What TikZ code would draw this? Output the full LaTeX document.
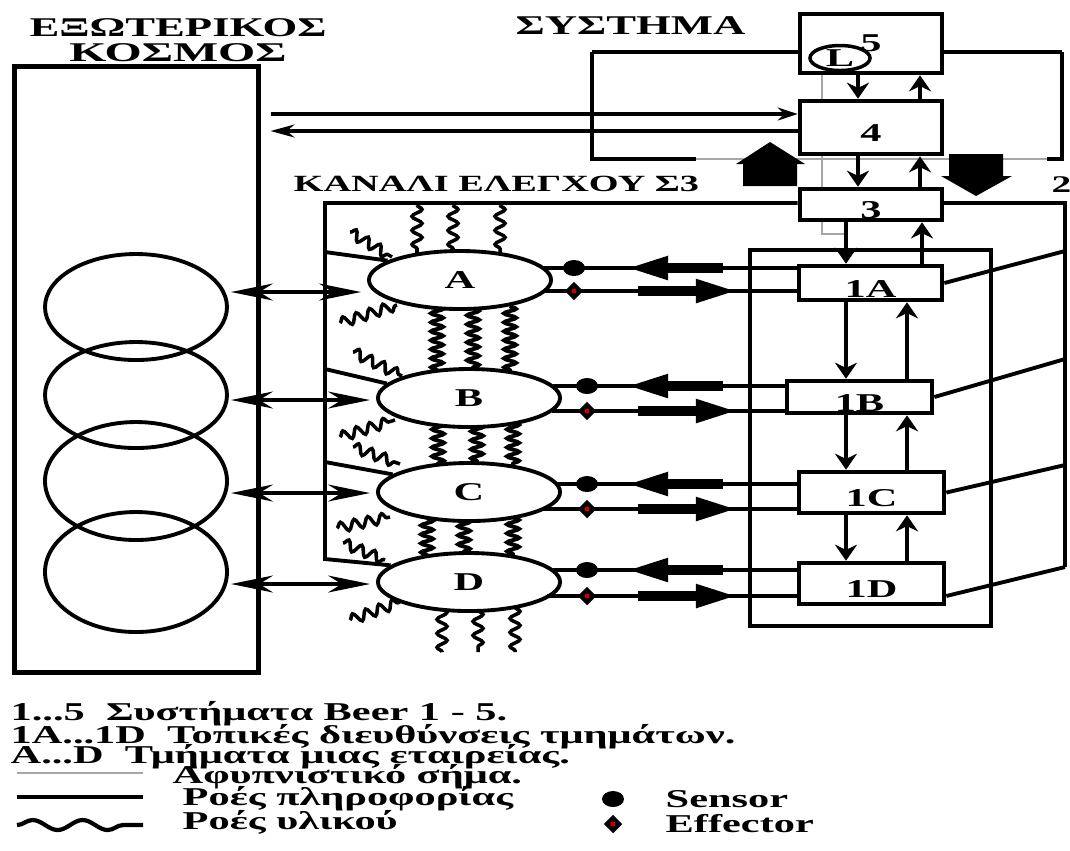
\documentclass[tikz,border=0pt]{standalone}
\usepackage{fontspec}
\setmainfont{Liberation Serif}[FakeStretch=1.65]
\usepackage{tikz}
\usetikzlibrary{arrows.meta,positioning,shapes.geometric,decorations.pathmorphing,calc}

\begin{document}
\begin{tikzpicture}[
  x=0.01cm, y=-0.01cm,
  >=Stealth,
  font=\bfseries\fontsize{7.3}{8.5}\selectfont,
  lbl/.style={inner sep=0pt, anchor=base west},
  head/.style={lbl, font=\bfseries\fontsize{7.7}{9}\selectfont},
  box/.style={draw, line width=1.3pt, fill=white, inner sep=0pt, minimum width=1.42cm},
  low/.style={text height=8pt, text depth=0pt},
  unit/.style={draw, ellipse, line width=1.1pt, fill=white, inner sep=0pt,
    minimum width=1.82cm, minimum height=0.58cm},
  info/.style={line width=0.9pt},
  alarm/.style={black!35, line width=0.4pt},
  chan/.style={line width=1.1pt},
  vert/.style={line width=0.9pt, -{Stealth[length=1.6mm, width=2.2mm]}},
  biarrow/.style={line width=0.9pt,
    {Stealth[length=4.2mm, width=1.7mm]}-{Stealth[length=4.2mm, width=1.7mm]}},
  fat/.style={line width=2.8pt, -{Triangle[length=4.3mm, width=2.1mm]}},
  sensor/.style={ellipse, fill=black, minimum width=2.2mm, minimum height=1.6mm, inner sep=0pt},
  effector/.style={diamond, fill=black, minimum size=1.9mm, inner sep=0pt},
  flow/.style={decorate, decoration={snake, amplitude=0.5mm, segment length=1.4mm}, line width=1pt},
  denseflow/.style={decorate, decoration={snake, amplitude=0.6mm, segment length=0.9mm}, line width=1.1pt},
]
\useasboundingbox (0,0) rectangle (1070,850);

% Alarm signal (thin gray)
\draw[alarm] (592,159) -- (1062,159);
\draw[alarm] (822,73) -- (822,234) -- (846,234);

% Outer world
\node[draw, line width=1.4pt, minimum width=2.43cm, minimum height=6.05cm, inner sep=0pt] (world) at (136.5,369.5) {};
\foreach \y/\r in {307/53, 395/53, 481/59, 572/60}
  \draw[line width=1.1pt] (136,\y) ellipse [x radius=91, y radius=\r];

% Titles
\node[head, anchor=base] (tWorld) at (178,36) {ΕΞΩΤΕΡΙΚΟΣ};
\node[head, anchor=base, xscale=1.07] (tCosmos) at (178,61) {ΚΟΣΜΟΣ};
\node[head] (tSystem) at (515,34) {ΣΥΣΤΗΜΑ};
\node[lbl, font=\bfseries\fontsize{6.6}{8}\selectfont] (tChannel) at (293,191) {ΚΑΝΑΛΙ ΕΛΕΓΧΟΥ Σ3};

% Systems 3, 4, 5 loop
\draw[chan] (592,52) -- (592,159) -- (696,159);
\draw[chan] (1062,52) -- (1062,159) -- (1047,159);
\node[box, minimum height=0.59cm] (b5) at (871,43.5) {5};
\draw[chan] (b5.west |- 0,52) -- (592,52);
\draw[chan] (b5.east |- 0,52) -- (1062,52);
\node[draw, ellipse, line width=1pt, inner sep=0pt, minimum width=0.6cm, minimum height=0.25cm] (clock) at (840,58) {L};
\node[box, low, minimum height=0.53cm] (b4) at (871,127.5) {4};
\node[box, low, minimum height=0.31cm] (b3) at (871,204.5) {3};

% Block arrows
\fill (743,186) -- (743,164) -- (736,164) -- (770,142) -- (805,164) -- (797,164) -- (797,186) -- cycle;
\fill (949,154) -- (1003,154) -- (1003,176) -- (1012,176) -- (976,196) -- (941,176) -- (949,176) -- cycle;

% Links to the outer world
\draw[info, shorten <=1mm, -{Stealth[length=2mm, width=1.3mm]}] (world.east |- 0,114) -- (b4.west |- 0,114);
\draw[info, shorten >=1mm, -{Stealth[length=2.4mm, width=1.3mm]}] (b4.west |- 0,131) -- (world.east |- 0,131);

% Local managements
\draw[line width=1.3pt] (750,250) rectangle (991,626);
\node[box, low, minimum width=1.43cm, minimum height=0.34cm] (b1A) at (870.5,283) {1A};
\node[box, low, minimum width=1.45cm, minimum height=0.32cm] (b1B) at (859.5,397) {1B};
\node[box, low, minimum width=1.45cm, minimum height=0.41cm] (b1C) at (871.5,492.5) {1C};
\node[box, low, minimum width=1.45cm, minimum height=0.41cm] (b1D) at (871.5,583.5) {1D};

% Vertical commands
\draw[vert] (858,0 |- b5.south) -- (858,0 |- b4.north);
\draw[vert] (920,0 |- b4.north) -- (920,0 |- b5.south);
\draw[vert] (858,0 |- b4.south) -- (858,0 |- b3.north);
\draw[vert] (920,0 |- b3.north) -- (920,0 |- b4.south);
\draw[vert] (846,0 |- b3.south) -- (846,0 |- b1A.north);
\draw[vert] (922,0 |- b1A.north) -- (922,0 |- b3.south);
\foreach \p/\q in {A/B, B/C, C/D} {
  \draw[vert] (846,0 |- b1\p.south) -- (846,0 |- b1\q.north);
  \draw[vert] (907,0 |- b1\q.north) -- (907,0 |- b1\p.south);
}

% System 2
\draw[chan] (b3.east |- 0,203) -- (1065,203) -- (1065,567);
\draw[chan] (b1A.east) -- (1065,251);
\draw[chan] (b1B.east) -- (1065,359);
\draw[chan] (b1C.east) -- (1065,465);
\draw[chan] (b1D.east |- 0,596) -- (1065,567);
\node[lbl, font=\bfseries\fontsize{6.8}{8}\selectfont] (two) at (1051,192) {2};

% Material flows
\foreach \xa/\ya/\xb/\yb in {417/205/417/253, 453/205/453/250, 500/205/500/253,
    350/232/392/257, 340/323/397/305, 353/352/402/376, 340/437/395/420,
    353/447/400/464, 337/528/390/517, 343/543/385/560, 350/620/400/602,
    442/608/442/652, 478/610/478/652, 515/607/515/652}
  \draw[flow] (\xa,\ya) -- (\xb,\yb);
\foreach \xa/\ya/\xb/\yb in {437/306/437/371, 473/308/473/370, 510/306/510/372,
    438/422/438/466, 477/424/477/464, 513/422/513/466,
    427/518/427/556, 464/519/464/554, 513/517/513/556}
  \draw[denseflow] (\xa,\ya) -- (\xb,\yb);

% Operations
\node[unit] (dA) at (460,280) {A};
\node[unit] (dB) at (469,398) {B};
\node[unit] (dC) at (469,492) {C};
\node[unit] (dD) at (469,582) {D};

% Control channel
\draw[chan] (b3.west |- 0,203) -- (325,203) -- (325,559) -- (dD.168);
\draw[chan] (325,252) -- (dA.165);
\draw[chan] (325,369) -- (dB.170);
\draw[chan] (325,462) -- (dC.167);

% Exchanges with the outer world
\foreach \n/\y in {A/292, B/400, C/493, D/584} {
  \coordinate (w\n) at (231,\y);
  \draw[biarrow, shorten >=0.6mm] (w\n) -- (d\n.west |- w\n);
}

% Sensors and effectors
\foreach \n/\x/\ys/\ye/\xa/\xb in {A/574/268/291/543/545, B/587/386/411/552/552,
    C/587/484/509/556/543, D/587/570/596/551/547} {
  \draw[info] (\xa,\ys) -- (b1\n.west |- 0,\ys);
  \draw[info] (\xb,\ye) -- (b1\n.west |- 0,\ye);
  \draw[fat] (723,\ys) -- (625,\ys);
  \draw[fat] (638,\ye) -- (739,\ye);
  \node[sensor] (s\n) at (\x,\ys) {};
  \node[effector] (e\n) at (\x,\ye) {};
  \fill[red!80!black] (e\n) circle [radius=0.25mm];
}

% Legend
\node[lbl] (lg1) at (10,720) {1...5\ \ Συστήματα Beer 1 - 5.};
\node[lbl] (lg2) at (10,743) {1A...1D\ \ Τοπικές διευθύνσεις τμημάτων.};
\node[lbl] (lg3) at (10,763) {A...D\ \ Τμήματα μιας εταιρείας.};
\draw[alarm] (17,773) -- (143,773);
\node[lbl] (lg4) at (172,783) {Αφυπνιστικό σήμα.};
\draw[line width=1.2pt] (17,797) -- (143,797);
\node[lbl] (lg5) at (182,805) {Ροές πληροφορίας};
\draw[line width=1.2pt, decorate, decoration={snake, amplitude=0.5mm, segment length=5mm}] (17,825) -- (143,825);
\node[lbl] (lg6) at (182,829) {Ροές υλικού};
\node[sensor] (lgS) at (613,799) {};
\node[lbl] (lg7) at (665,807) {Sensor};
\node[effector] (lgE) at (613,824) {};
\fill[red!80!black] (lgE) circle [radius=0.25mm];
\node[lbl] (lg8) at (665,832) {Effector};
\end{tikzpicture}
\end{document}
